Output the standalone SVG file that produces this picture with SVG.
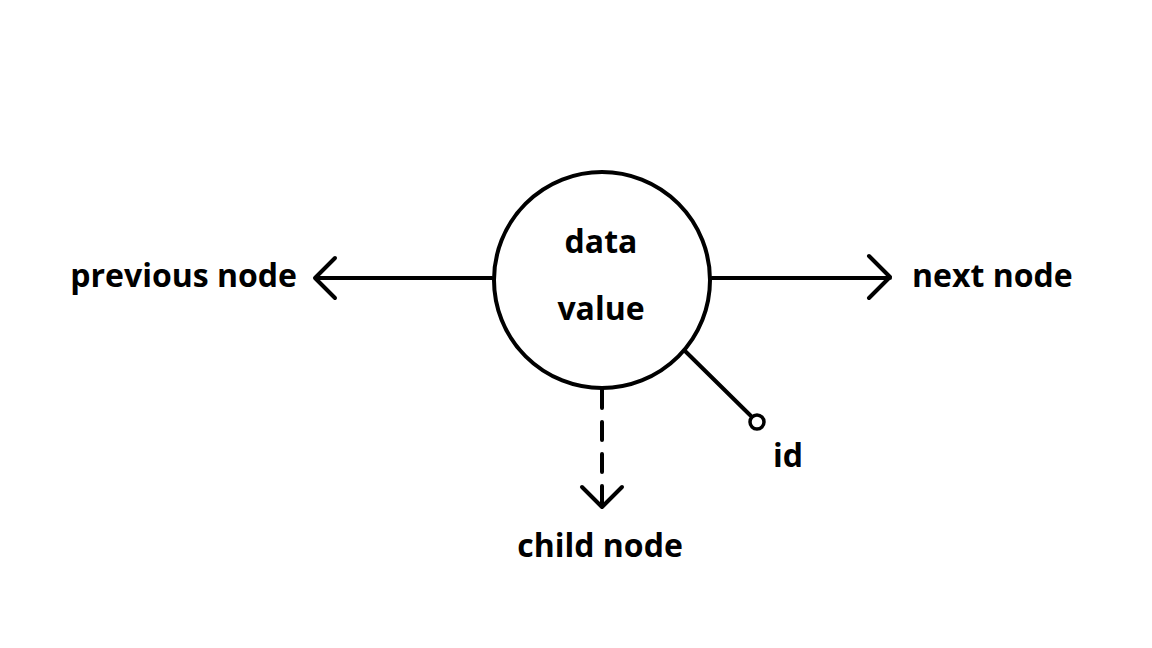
<svg xmlns="http://www.w3.org/2000/svg" width="1152" height="648" viewBox="0 0 1152 648">
<style>
.t{font-family:"Open Sans","Noto Sans","Liberation Sans",sans-serif;font-weight:bold;font-size:32px;fill:#000}
.s{fill:none;stroke:#000;stroke-width:4;stroke-linecap:round;stroke-linejoin:round}
</style>
<rect width="1152" height="648" fill="#fff"/>
<g id="connectors">
<path class="s" d="M492 278 H316 M335 258 L315 278 L335 298"/>
<path class="s" d="M712 278 H890 M869 256 L890 277 L869 298"/>
<path class="s" d="M602 390 V506" stroke-dasharray="18 14" stroke-linecap="butt"/>
<path class="s" d="M582 487 L602 507 L622 487"/>
<path class="s" stroke-width="3.5" d="M684 350 L751 416"/>
<circle cx="757" cy="422" r="7" fill="#fff" stroke="#000" stroke-width="3.5"/>
</g>
<g id="node">
<circle cx="602" cy="280" r="108" fill="#fff" stroke="#000" stroke-width="4"/>
<text class="t" x="601" y="253" text-anchor="middle">data</text>
<text class="t" x="601" y="320" text-anchor="middle">value</text>
</g>
<g id="prev"><text class="t" x="297" y="287" text-anchor="end">previous node</text></g>
<g id="next"><text class="t" x="912" y="287">next node</text></g>
<g id="child"><text class="t" x="600" y="557" text-anchor="middle">child node</text></g>
<g id="id"><text class="t" x="773" y="467">id</text></g>
</svg>
